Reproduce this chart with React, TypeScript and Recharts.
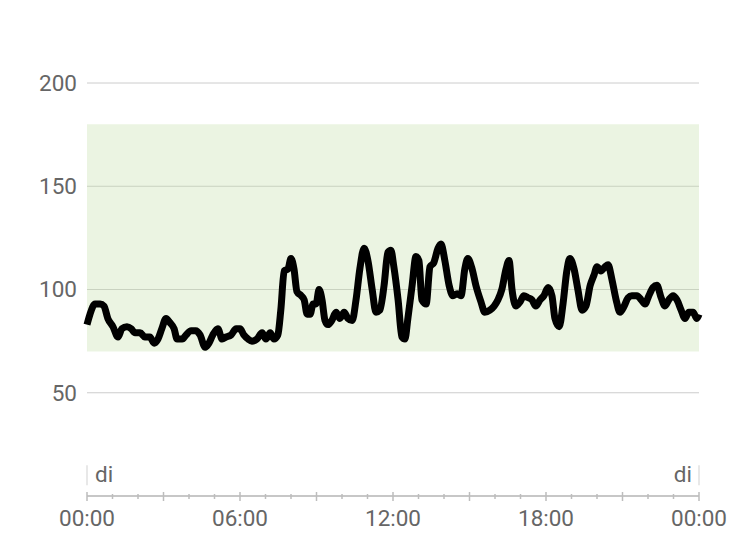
import { CartesianGrid, Line, LineChart, ReferenceArea, ReferenceDot, XAxis, YAxis } from 'recharts';

// minutes since midnight
const minutes = [
  0, 7, 19, 31, 40, 49, 61, 73, 82, 94, 104, 113, 125, 136, 148, 158, 167, 176, 186, 195,
  205, 212, 224, 233, 245, 256, 266, 278, 287, 296, 308, 318, 327, 339, 351, 360, 369, 379, 388, 400,
  412, 421, 431, 440, 449, 456, 464, 473, 480, 487, 494, 504, 511, 518, 525, 532, 539, 546, 553, 560,
  567, 576, 586, 595, 605, 614, 624, 633, 642, 652, 661, 671, 680, 689, 699, 708, 715, 722, 732, 741,
  748, 755, 765, 774, 781, 788, 798, 807, 816, 826, 833, 842, 852, 861, 871, 880, 889, 896, 906, 915,
  927, 936, 948, 958, 967, 976, 986, 993, 1000, 1009, 1019, 1028, 1038, 1047, 1056, 1066, 1075, 1085, 1094, 1101,
  1111, 1120, 1129, 1136, 1146, 1155, 1165, 1174, 1184, 1193, 1200, 1209, 1219, 1226, 1235, 1245, 1254, 1264, 1273, 1282,
  1294, 1304, 1313, 1322, 1332, 1341, 1351, 1360, 1369, 1379, 1388, 1398, 1407, 1416, 1426, 1435, 1440,
];

const glucose = [
  83, 88, 93, 93, 92, 86, 82, 77, 81, 82, 81, 79, 79, 77, 77, 74, 76, 81, 86, 84,
  81, 76, 76, 78, 80, 80, 78, 72, 74, 78, 81, 76, 77, 78, 81, 81, 78, 76, 75, 76,
  79, 76, 79, 76, 78, 90, 109, 110, 115, 110, 99, 97, 95, 88, 88, 93, 93, 100, 95, 85,
  83, 85, 89, 86, 89, 86, 85, 95, 110, 120, 114, 100, 89, 90, 102, 118, 119, 111, 95, 77,
  76, 86, 102, 116, 114, 95, 93, 111, 113, 120, 122, 114, 102, 97, 98, 97, 110, 115, 110, 102,
  94, 89, 90, 92, 95, 100, 110, 114, 100, 92, 94, 97, 96, 95, 92, 95, 97, 101, 97, 86,
  82, 93, 109, 115, 110, 100, 90, 92, 102, 107, 111, 109, 111, 112, 105, 95, 89, 92, 96, 97,
  97, 95, 93, 97, 101, 102, 96, 92, 95, 97, 95, 90, 86, 89, 89, 86, 88,
];

const yTicks = [50, 100, 150, 200];
const hourTicks = Array.from({ length: 25 }, (_, i) => i * 60);
const hourLabels = ['00:00', '06:00', '12:00', '18:00', '00:00'];
const dayMarkers = [
  { t: 0, label: 'di', side: 'start' },
  { t: 1440, label: 'di', side: 'end' },
];
const targetLow = 70;
const targetHigh = 180;

const data = minutes.map((t, i) => ({ t, value: glucose[i] }));

const HourTick = (props: any) => {
  const { x, y, payload } = props;
  const v = payload.value as number;
  const hour = v / 60;
  const long = hour % 3 === 0;
  const label = hour % 6 === 0 ? hourLabels[hour / 6] : null;
  return (
    <g>
      <line x1={x} x2={x} y1={y - (long ? 4 : 2)} y2={y + (long ? 5 : 3)} stroke="#bdbdbd" strokeWidth={1.5} />
      {label && (
        <text x={x} y={y + 30} textAnchor="middle" fontSize={22.5} fill="#666" fontFamily="Roboto">
          {label}
        </text>
      )}
    </g>
  );
};

const App = () => {
  return (
    <div style={{ position: 'absolute', left: 0, top: 0, background: '#fff' }}>
      <LineChart width={738} height={554} data={data} margin={{ top: 83, right: 39, left: 0, bottom: 0 }}>
        <ReferenceArea y1={targetLow} y2={targetHigh} fill="#c3dfab" fillOpacity={0.34} stroke="none" />
        <CartesianGrid vertical={false} stroke="#cccccc" strokeWidth={1} />
        <XAxis
          type="number"
          dataKey="t"
          domain={[0, 1440]}
          ticks={hourTicks}
          interval={0}
          tick={<HourTick />}
          tickLine={false}
          tickSize={0}
          tickMargin={0}
          axisLine={{ stroke: '#bdbdbd', strokeWidth: 1.5 }}
          height={58}
        />
        <YAxis
          domain={[0, 200]}
          ticks={yTicks}
          width={87}
          axisLine={false}
          tickLine={false}
          tickSize={0}
          tickMargin={10}
          tick={{ fontSize: 22.5, fill: '#666', fontFamily: 'Roboto' }}
        />
        {dayMarkers.map((m) => (
          <ReferenceDot
            key={m.t}
            x={m.t}
            y={10}
            r={0}
            ifOverflow="visible"
            shape={(p: any) => (
              <g>
                <line x1={p.cx} x2={p.cx} y1={p.cy - 10} y2={p.cy + 10} stroke="#e0e0e0" strokeWidth={1.5} />
                <text
                  x={m.side === 'start' ? p.cx + 8 : p.cx - 7}
                  y={p.cy + 7}
                  textAnchor={m.side}
                  fontSize={22.5}
                  fill="#666"
                  fontFamily="Roboto"
                >
                  {m.label}
                </text>
              </g>
            )}
          />
        ))}
        <Line
          type="monotone"
          dataKey="value"
          stroke="#000"
          strokeWidth={7}
          dot={false}
          strokeLinejoin="round"
          isAnimationActive={false}
        />
      </LineChart>
    </div>
  );
};

export default App;
